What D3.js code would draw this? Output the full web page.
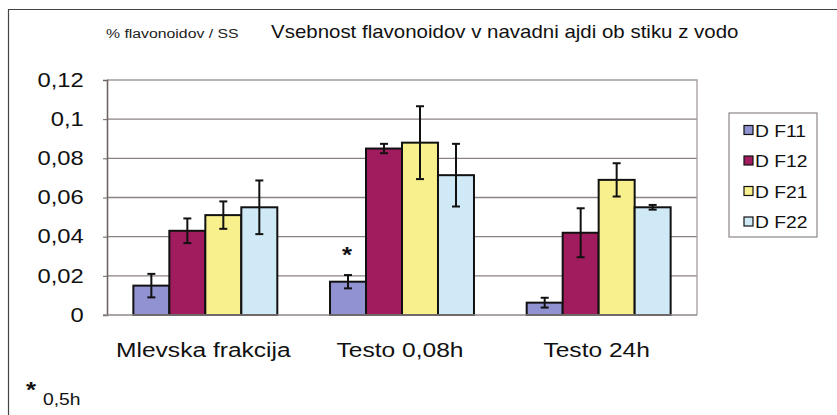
<!DOCTYPE html>
<html>
<head>
<meta charset="utf-8">
<script src="https://cdn.jsdelivr.net/npm/d3@7"></script>
<style>
  body { margin: 0; background: #fff; }
  svg { font-family: "Liberation Sans", Arial, sans-serif; }
</style>
</head>
<body>
<div id="chart"></div>
<script>
// data
const categories = ["Mlevska frakcija", "Testo 0,08h", "Testo 24h"];
const seriesNames = ["D F11", "D F12", "D F21", "D F22"];
const colors = ["#9192d2", "#a01c5e", "#f8f08c", "#d0e9f6"];
const F11 = [0.015, 0.017, 0.0063];
const F12 = [0.043, 0.085, 0.042];
const F21 = [0.051, 0.088, 0.069];
const F22 = [0.055, 0.0714, 0.055];
const errF11 = [0.006, 0.0034, 0.0025];
const errF12 = [0.0063, 0.0024, 0.0125];
const errF21 = [0.007, 0.0186, 0.0085];
const errF22 = [0.0137, 0.016, 0.0012];
const yTicks = [0, 0.02, 0.04, 0.06, 0.08, 0.1, 0.12];

const values = [F11, F12, F21, F22];
const errors = [errF11, errF12, errF21, errF22];

const svgWidth = 837, svgHeight = 415;
const svg = d3.select("#chart").append("svg")
    .attr("width", svgWidth).attr("height", svgHeight);

// the source text is a bit wider than the font, so stretch it a little
const stretch = 1.17;
function addText(parent, x, y, size, str, anchor) {
    return parent.append("text")
        .attr("transform", "translate(" + x + "," + y + ") scale(" + stretch + ",1)")
        .attr("text-anchor", anchor || "start")
        .attr("font-size", size).attr("fill", "#111")
        .text(str);
}

// outer frame (left + top only visible)
svg.append("path")
    .attr("d", "M8.5,415 V9.5 H837")
    .attr("fill", "none").attr("stroke", "#444").attr("stroke-width", 1.2);

const margin = {top: 80, left: 107},
      width = 590,
      height = 235;

const g = svg.append("g")
    .attr("transform", "translate(" + margin.left + "," + margin.top + ")");

const x0 = d3.scaleBand().domain(categories).range([0, width])
    .paddingInner(0.268).paddingOuter(0.134);
const x1 = d3.scaleBand().domain(seriesNames).range([0, x0.bandwidth()]);
const y = d3.scaleLinear().domain([0, 0.12]).range([height, 0]);

const fmt = d => d3.format("~g")(d).replace(".", ",");

// gridlines
g.selectAll(".grid").data(yTicks.slice(1, -1)).enter().append("line")
    .attr("x1", 0).attr("x2", width)
    .attr("y1", d => y(d)).attr("y2", d => y(d))
    .attr("stroke", "#8a8282").attr("stroke-width", 1.4);

// plot area border top/right
g.append("path")
    .attr("d", "M0," + y(0.12) + " H" + width + " V" + y(0))
    .attr("fill", "none").attr("stroke", "#a59c9c").attr("stroke-width", 1.3);

// bars
const groups = g.selectAll(".grp").data(categories).enter().append("g")
    .attr("transform", d => "translate(" + x0(d) + ",0)");

groups.each(function(cat, ci) {
    const grp = d3.select(this);
    seriesNames.forEach((s, si) => {
        const v = values[si][ci];
        grp.append("rect")
            .attr("x", x1(s))
            .attr("y", y(v))
            .attr("width", x1.bandwidth())
            .attr("height", y(0) - y(v))
            .attr("fill", colors[si])
            .attr("stroke", "#111").attr("stroke-width", 2);
    });
});

// error bars
groups.each(function(cat, ci) {
    const grp = d3.select(this);
    seriesNames.forEach((s, si) => {
        const v = values[si][ci], e = errors[si][ci];
        const cx = x1(s) + x1.bandwidth() / 2;
        grp.append("line")
            .attr("x1", cx).attr("x2", cx)
            .attr("y1", y(v + e)).attr("y2", y(v - e))
            .attr("stroke", "#111").attr("stroke-width", 2);
        [v + e, v - e].forEach(t => {
            grp.append("line")
                .attr("x1", cx - 4).attr("x2", cx + 4)
                .attr("y1", y(t)).attr("y2", y(t))
                .attr("stroke", "#111").attr("stroke-width", 2);
        });
    });
});

// asterisk for Testo 0,08h F11
addText(g, x0(categories[1]) + x1(seriesNames[0]) + x1.bandwidth() / 2 - 1,
        y(F11[1] + errF11[1]) - 13, 22, "*", "middle")
    .attr("font-weight", "bold");

// y axis
const yAxis = g.append("g")
    .call(d3.axisLeft(y).tickValues(yTicks).tickFormat(fmt).tickSize(4).tickPadding(15));
yAxis.select(".domain").attr("stroke", "#6e6464").attr("stroke-width", 1.6);
yAxis.selectAll(".tick line").attr("stroke", "#6e6464");
yAxis.selectAll("text").attr("font-size", 19.5).attr("fill", "#111")
    .attr("font-family", "Liberation Sans, Arial, sans-serif")
    .attr("transform", "scale(1.22,1)");

// x axis baseline and labels
g.append("line")
    .attr("x1", -4).attr("x2", width)
    .attr("y1", y(0)).attr("y2", y(0))
    .attr("stroke", "#8f8787").attr("stroke-width", 1.3);

categories.forEach(c => {
    addText(g, x0(c) + x0.bandwidth() / 2 - 2, height + 42, 21, c, "middle");
});

// titles
addText(svg, 106, 38, 13.5, "% flavonoidov / SS").attr("fill", "#222");
addText(svg, 271, 38, 17.5, "Vsebnost flavonoidov v navadni ajdi ob stiku z vodo");

// footnote
addText(svg, 31, 397, 22, "*", "middle").attr("font-weight", "bold");
addText(svg, 43, 405, 16.5, "0,5h");

// legend
const legend = svg.append("g").attr("transform", "translate(729,113)");
legend.append("rect")
    .attr("width", 88).attr("height", 124)
    .attr("fill", "#fff").attr("stroke", "#8f8787").attr("stroke-width", 1.2);
seriesNames.forEach((s, i) => {
    const row = legend.append("g").attr("transform", "translate(0," + (17 + i * 30.5) + ")");
    row.append("rect")
        .attr("x", 15).attr("y", -4.5).attr("width", 9).attr("height", 9)
        .attr("fill", colors[i]).attr("stroke", "#111").attr("stroke-width", 1.2);
    addText(row, 26, 6.5, 16.5, s);
});
</script>
</body>
</html>
